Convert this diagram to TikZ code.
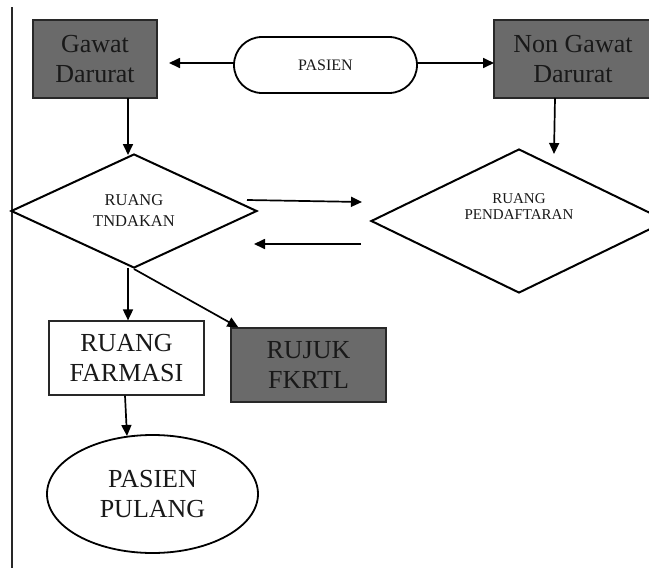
\documentclass[tikz,border=0pt]{standalone}
\usepackage{fontspec}
\setmainfont{Liberation Serif}
\usetikzlibrary{shapes.geometric,shapes.misc,arrows.meta}
\definecolor{boxgray}{RGB}{106,106,106}
\definecolor{edgegray}{RGB}{40,40,40}
\definecolor{txt}{RGB}{25,25,25}
\tikzset{
  darkbox/.style={rectangle,draw=edgegray,line width=1.2pt,fill=boxgray,align=center,inner sep=0pt,text=txt,font=\fontsize{26}{30}\selectfont},
  whitebox/.style={rectangle,draw=edgegray,line width=1.2pt,fill=white,align=center,inner sep=0pt,text=txt,font=\fontsize{26}{30}\selectfont},
  pill/.style={rounded rectangle,draw,line width=1.8pt,align=center,inner sep=0pt,text=txt,font=\fontsize{16}{19}\selectfont},
  decide/.style={diamond,draw,line width=2pt,align=center,inner sep=0pt,text=txt},
  endoval/.style={ellipse,draw,line width=1.8pt,align=center,inner sep=0pt,text=txt,font=\fontsize{26}{30}\selectfont},
  arr/.style={line width=1.7pt,-{Triangle[length=11pt,width=10pt]}}
}
\begin{document}
\begin{tikzpicture}[x=1pt,y=-1pt]
\useasboundingbox (0,0) rectangle (649,568);
\clip (0,0) rectangle (649,568);
% left margin line
\coordinate (lt) at (12,7);
\coordinate (lb) at (12,568);
\draw[line width=1.2pt,edgegray] (lt) -- (lb);
% nodes
\node[darkbox,minimum width=124pt,minimum height=78pt] (gd) at (95,59) {Gawat\\Darurat};
\node[darkbox,minimum width=158pt,minimum height=78pt] (ngd) at (573,59) {Non Gawat\\Darurat};
\node[pill,minimum width=183pt,minimum height=56pt] (pas) at (325.5,65) {PASIEN};
\node[decide,minimum width=246pt,minimum height=114pt,font=\fontsize{16.5}{21}\selectfont] (d1) at (134,211) {RUANG\\TNDAKAN};
\node[decide,minimum width=296pt,minimum height=144pt] (d2) at (519,221) {};
\node[align=center,inner sep=0pt,text=txt,font=\fontsize{15}{16}\selectfont] (d2t) at (519,207) {RUANG\\PENDAFTARAN};
\node[whitebox,minimum width=155pt,minimum height=74pt] (farm) at (126.5,358) {RUANG\\FARMASI};
\node[darkbox,minimum width=155pt,minimum height=74pt] (ruj) at (308.5,365) {RUJUK\\FKRTL};
\node[endoval,minimum width=211pt,minimum height=118pt] (ell) at (152.5,494) {PASIEN\\PULANG};
% free ends
\coordinate (gdin) at (169,63);
\coordinate (ngdin) at (494,63);
\coordinate (gdout) at (128,98);
\coordinate (d1in) at (128,155);
\coordinate (ngdout) at (555,98);
\coordinate (d2in) at (554,154);
\coordinate (r1s) at (247,200);
\coordinate (r1e) at (362,202);
\coordinate (l1s) at (361,244);
\coordinate (l1e) at (254,244);
\coordinate (d1b) at (128,268);
\coordinate (ellin) at (127,436);
% connectors
\draw[arr] (pas.west |- gdin) -- (gdin);
\draw[arr] (pas.east |- ngdin) -- (ngdin);
\draw[arr] (gdout) -- (d1in);
\draw[arr] (ngdout) -- (d2in);
\draw[arr] (r1s) -- (r1e);
\draw[arr] (l1s) -- (l1e);
\draw[arr] (d1b) -- (d1b |- farm.north);
\draw[arr] (d1.south) -- ([xshift=8pt]ruj.north west);
\draw[arr] ([xshift=-1.5pt]farm.south) -- (ellin);
\end{tikzpicture}
\end{document}
